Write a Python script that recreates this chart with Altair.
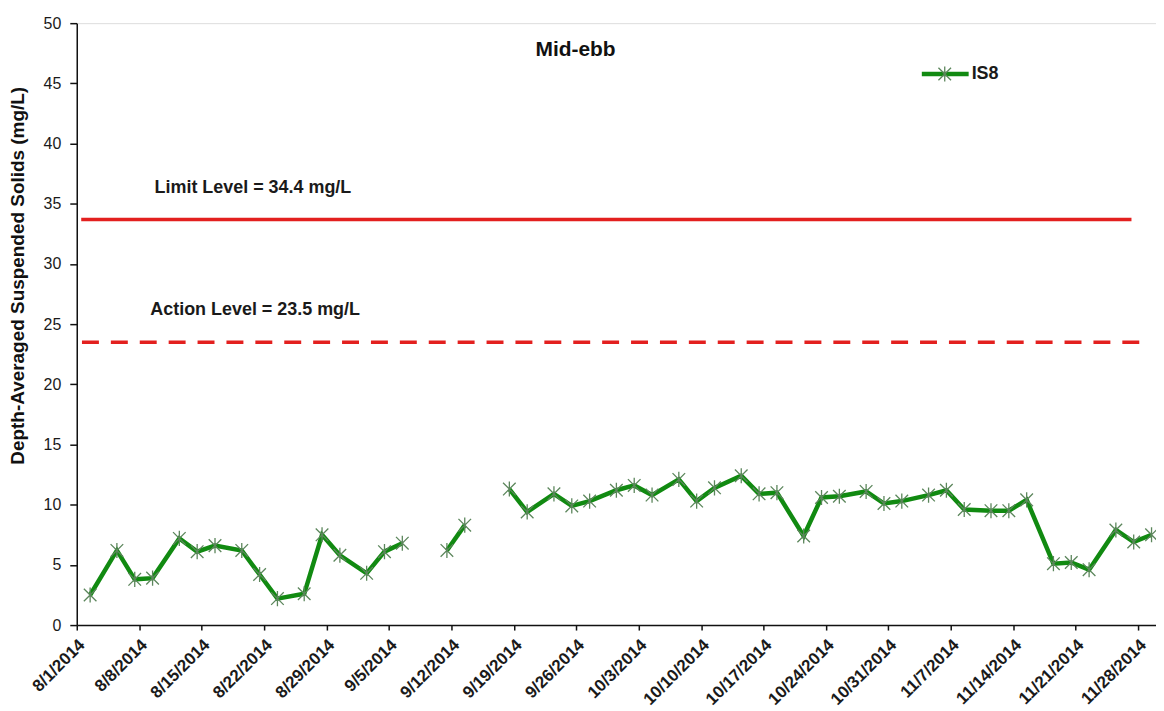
import altair as alt
import pandas as pd

# ---------------- data ----------------
series_name = ["IS8"]

sample_dates = [
    "2014-08-02", "2014-08-05", "2014-08-07", "2014-08-09", "2014-08-12",
    "2014-08-14", "2014-08-16", "2014-08-19", "2014-08-21", "2014-08-23",
    "2014-08-26", "2014-08-28", "2014-08-30", "2014-09-02", "2014-09-04",
    "2014-09-06", "2014-09-11", "2014-09-13", "2014-09-18", "2014-09-20",
    "2014-09-23", "2014-09-25", "2014-09-27", "2014-09-30", "2014-10-02",
    "2014-10-04", "2014-10-07", "2014-10-09", "2014-10-11", "2014-10-14",
    "2014-10-16", "2014-10-18", "2014-10-21", "2014-10-23", "2014-10-25",
    "2014-10-28", "2014-10-30", "2014-11-01", "2014-11-04", "2014-11-06",
    "2014-11-08", "2014-11-11", "2014-11-13", "2014-11-15", "2014-11-18",
    "2014-11-20", "2014-11-22", "2014-11-25", "2014-11-27", "2014-11-29",
]
is8_values = [
    2.5, 6.2, 3.8, 3.9, 7.2,
    6.1, 6.6, 6.2, 4.2, 2.2,
    2.6, 7.5, 5.8, 4.3, 6.1,
    6.8, 6.2, 8.3, 11.3, 9.4,
    10.9, 9.9, 10.3, 11.2, 11.6,
    10.8, 12.1, 10.3, 11.4, 12.4,
    10.9, 11.0, 7.4, 10.6, 10.7,
    11.1, 10.1, 10.3, 10.8, 11.2,
    9.6, 9.5, 9.5, 10.4, 5.1,
    5.2, 4.6, 7.9, 6.9, 7.5,
]

tick_dates = [
    "2014-08-01", "2014-08-08", "2014-08-15", "2014-08-22", "2014-08-29",
    "2014-09-05", "2014-09-12", "2014-09-19", "2014-09-26", "2014-10-03",
    "2014-10-10", "2014-10-17", "2014-10-24", "2014-10-31", "2014-11-07",
    "2014-11-14", "2014-11-21", "2014-11-28",
]
y_ticks = [0, 5, 10, 15, 20, 25, 30, 35, 40, 45, 50]

level_labels = ["Limit Level = 34.4 mg/L", "Action Level = 23.5 mg/L"]
level_values = [33.7, 23.5]              # where the lines are drawn
level_starts = ["2014-08-01T12:00:00Z", "2014-08-01T14:00:00Z"]
level_ends = ["2014-11-27T06:00:00Z", "2014-11-29T00:00:00Z"]
label_dates = ["2014-08-20T18:00:00Z", "2014-08-21T00:00:00Z"]
label_values = [36.3, 26.2]

title_text = "Mid-ebb"
y_title = "Depth-Averaged Suspended Solids (mg/L)"

# ---------------- tables ----------------
series = pd.DataFrame({"date": [d + "T12:00:00Z" for d in sample_dates],
                       "value": is8_values})
day = pd.to_datetime(pd.Series(sample_dates))
series["seg"] = (day.diff().dt.days.fillna(0) > 4).cumsum()

limit = pd.DataFrame({"date": [level_starts[0]], "date2": [level_ends[0]],
                      "value": [level_values[0]]})
action = pd.DataFrame({"date": [level_starts[1]], "date2": [level_ends[1]],
                       "value": [level_values[1]]})
labels = pd.DataFrame({"date": label_dates, "value": label_values,
                       "label": level_labels})
legend_df = pd.DataFrame({"label": series_name})


def dt(s):
    y, m, d = (int(p) for p in s.split("-"))
    return alt.DateTime(year=y, month=m, date=d, utc=True)


FONT = "Liberation Sans"
GREEN = "#118a11"
RED = "#e3201f"

x_enc = alt.X(
    "date:T",
    scale=alt.Scale(type="utc", domain=[dt("2014-08-01"), dt("2014-11-30")]),
    axis=alt.Axis(
        values=[dt(t) for t in tick_dates],
        format="%-m/%-d/%Y",
        labelAngle=-45,
        labelAlign="right",
        labelBaseline="middle",
        labelFont=FONT,
        labelFontSize=17,
        labelFontWeight="bold",
        labelColor="#1a1a1a",
        labelPadding=12,
        labelOffset=5,
        labelOverlap=False,
        labelFlush=False,
        labelBound=False,
        tickSize=5,
        tickColor="#111111",
        tickWidth=1.5,
        domainColor="#111111",
        domainWidth=1.5,
        grid=False,
        title=None,
    ),
)
y_enc = alt.Y(
    "value:Q",
    scale=alt.Scale(domain=[0, 50], nice=False, zero=True),
    axis=alt.Axis(
        values=y_ticks,
        labelFont=FONT,
        labelFontSize=16,
        labelColor="#1a1a1a",
        labelPadding=9,
        tickSize=7,
        tickColor="#111111",
        tickWidth=1.5,
        domainColor="#111111",
        domainWidth=1.5,
        grid=False,
        title=y_title,
        titleFont=FONT,
        titleFontSize=19,
        titleFontWeight="bold",
        titleColor="#111111",
        titleAngle=270,
        titleX=-59,
        titleY=253,
        titleAlign="center",
        titleBaseline="middle",
    ),
)

star = "M-1,-1L1,1M-1,1L1,-1M0,-1.2L0,1.2"

line = alt.Chart(series).mark_line(color=GREEN, strokeWidth=4.5).encode(
    x=x_enc, y=y_enc, detail="seg:N")
pts = alt.Chart(series).mark_point(shape=star, size=160, filled=False,
                                   stroke="#5c865c", strokeWidth=1.3,
                                   opacity=1).encode(x=x_enc, y=y_enc)

limit_rule = alt.Chart(limit).mark_rule(color=RED, strokeWidth=3.5).encode(
    x=x_enc, x2="date2:T", y=y_enc)
action_rule = alt.Chart(action).mark_rule(color=RED, strokeWidth=3.5,
                                          strokeDash=[17, 12]).encode(
    x=x_enc, x2="date2:T", y=y_enc)
level_text = alt.Chart(labels).mark_text(font=FONT, fontSize=18,
                                         fontWeight="bold", color="#1a1a1a",
                                         align="center", baseline="middle").encode(
    x=x_enc, y=y_enc, text="label:N")

# legend (line + marker + label), top right inside the plot
leg_line = alt.Chart(legend_df).mark_rule(color=GREEN, strokeWidth=4.5).encode(
    x=alt.value(848), x2=alt.value(895), y=alt.value(51))
leg_pt = alt.Chart(legend_df).mark_point(shape=star, size=160, filled=False,
                                         stroke="#5c865c", strokeWidth=1.3,
                                         opacity=1).encode(
    x=alt.value(871), y=alt.value(51))
leg_txt = alt.Chart(legend_df).mark_text(font=FONT, fontSize=18,
                                         fontWeight="bold", color="#1a1a1a",
                                         align="left", baseline="middle").encode(
    x=alt.value(898), y=alt.value(51), text="label:N")

chart = alt.layer(
    limit_rule, action_rule, level_text, line, pts, leg_line, leg_pt, leg_txt
).properties(
    width=1083,
    height=604,
    title=alt.Title(title_text, font=FONT, fontSize=21, fontWeight="bold",
                    color="#111111", anchor="middle", dx=-41, dy=49),
    autosize=alt.AutoSizeParams(type="none"),
    padding={"left": 69, "top": 14, "right": 0, "bottom": 85},
).configure_view(stroke=None).configure(background="white")

chart.save("out.html", embed_options={"renderer": "svg", "actions": False})
